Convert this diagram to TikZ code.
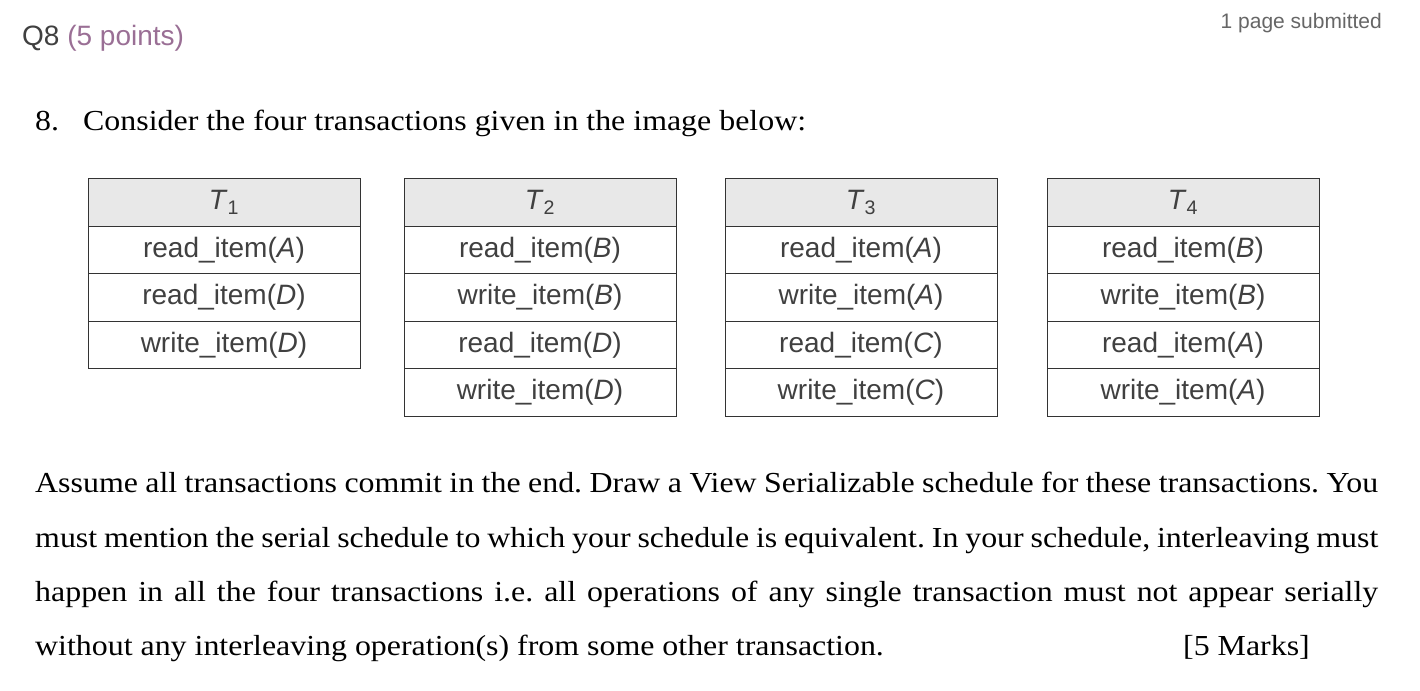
\documentclass[tikz,border=0pt]{standalone}
\usepackage{fontspec}
\setmainfont[FakeStretch=1.1]{Liberation Serif}
\setsansfont{Liberation Sans}
\frenchspacing
\begin{document}
\begin{tikzpicture}[x=1pt,y=-1pt,
  cell/.style={draw=black!80,line width=1pt,minimum width=272pt,minimum height=47.5pt,inner sep=0pt,font=\sffamily\fontsize{28}{30}\selectfont,text=black!75},
  head/.style={cell,fill=black!9},
  body/.style={font=\fontsize{29}{34}\selectfont,anchor=base west,inner sep=0pt}]
\useasboundingbox (0,0) rectangle (1420,690);
\node[anchor=base west,inner sep=0pt,font=\sffamily\fontsize{28}{32}\selectfont,text=black!75] (q) at (22,46) {Q8 \textcolor[HTML]{9A6F95}{(5 points)}};
\node[anchor=base east,inner sep=0pt,font=\sffamily\fontsize{21}{24}\selectfont,text=black!60] (ps) at (1382,29) {1 page submitted};
\node[body] (num) at (35,130) {8.};
\node[body] (intro) at (83,130) {Consider the four transactions given in the image below:};
% tables
\foreach \n/\x/\a/\b/\c in {1/224/read\_item(\textit{A})/read\_item(\textit{D})/write\_item(\textit{D}),
  2/540/read\_item(\textit{B})/write\_item(\textit{B})/read\_item(\textit{D}),
  3/861/read\_item(\textit{A})/write\_item(\textit{A})/read\_item(\textit{C}),
  4/1183/read\_item(\textit{B})/write\_item(\textit{B})/read\_item(\textit{A})}{
  \node[head] (t\n h) at (\x,202.5) {\textit{T}\textsubscript{\n}};
  \node[cell] (t\n a) at (\x,250) {\a};
  \node[cell] (t\n b) at (\x,297.5) {\b};
  \node[cell] (t\n c) at (\x,345) {\c};
}
\node[cell] (t2d) at (540,392.5) {write\_item(\textit{D})};
\node[cell] (t3d) at (861,392.5) {write\_item(\textit{C})};
\node[cell] (t4d) at (1183,392.5) {write\_item(\textit{A})};
\node[body] (l1) at (35,492) {\makebox[1343pt][s]{Assume all transactions commit in the end. Draw a View Serializable schedule for these transactions. You}};
\node[body] (l2) at (35,547) {\makebox[1343pt][s]{must mention the serial schedule to which your schedule is equivalent. In your schedule, interleaving must}};
\node[body] (l3) at (35,601) {\makebox[1343pt][s]{happen in all the four transactions i.e. all operations of any single transaction must not appear serially}};
\node[body] (l4) at (35,655) {without any interleaving operation(s) from some other transaction.};
\node[body,anchor=base east] (m) at (1310,655) {[5 Marks]};
\end{tikzpicture}
\end{document}
